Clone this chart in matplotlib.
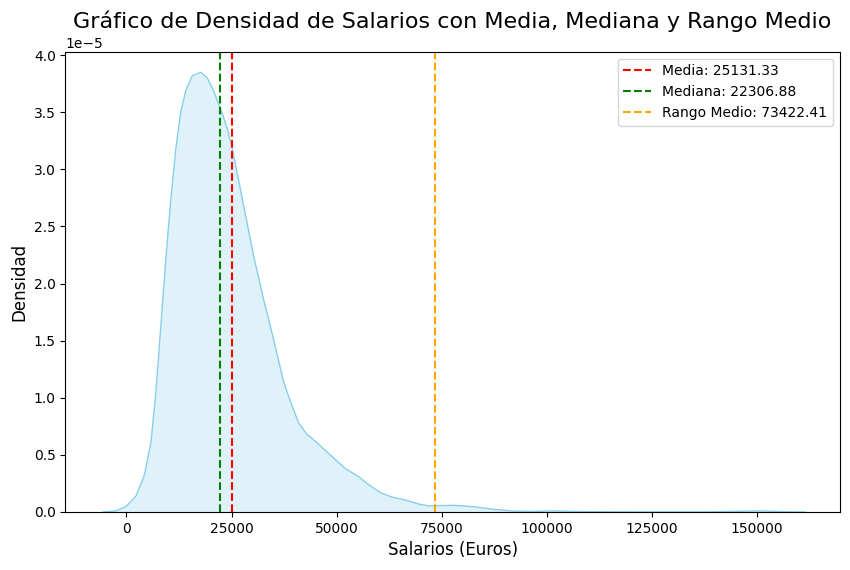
import matplotlib
matplotlib.use('Agg')
import matplotlib.pyplot as plt
import numpy as np

# density curve (salary in euros, density in units of 1e-5)
salario = [-5600, -2440, 0, 2290, 4260, 5840, 7020, 8200, 9390, 10570,
           11750, 12930, 14120, 15690, 17670, 19240, 20820, 22400, 23980,
           25120, 26500, 27890, 30270, 32640, 35020, 37240, 38580, 40960,
           42950, 44930, 47300, 49680, 52060, 55220, 57600, 60370, 63150,
           66320, 69480, 71860, 75040, 78200, 82320, 87400, 91620, 95850,
           101500, 108500, 121200, 138150, 150700, 156770, 161400]
densidad = [0.0, 0.01, 0.05, 0.14, 0.32, 0.61, 1.05, 1.63, 2.22, 2.74,
            3.18, 3.50, 3.69, 3.82, 3.85, 3.80, 3.68, 3.53, 3.36,
            3.19, 2.94, 2.68, 2.24, 1.86, 1.51, 1.16, 1.01, 0.78,
            0.68, 0.62, 0.54, 0.46, 0.38, 0.31, 0.24, 0.17, 0.13,
            0.105, 0.07, 0.053, 0.056, 0.058, 0.047, 0.023, 0.009, 0.004,
            0.009, 0.003, 0.001, 0.001, 0.009, 0.002, 0.0]

media = 25131.33
mediana = 22306.88
rango_medio = 73422.41


def main():
	x = np.array(salario)
	y = np.array(densidad) * 1e-5

	fig = plt.figure(figsize=(8.5, 5.7), dpi=100)
	ax = fig.add_axes([0.077, 0.1018, 0.911, 0.8075])

	ax.fill_between(x, y, color='skyblue', alpha=0.25, linewidth=0)
	ax.plot(x, y, color='skyblue', linewidth=1)

	ax.axvline(media, color='red', linestyle='--', label='Media: %.2f' % media)
	ax.axvline(mediana, color='green', linestyle='--', label='Mediana: %.2f' % mediana)
	ax.axvline(rango_medio, color='orange', linestyle='--', label='Rango Medio: %.2f' % rango_medio)

	ax.set_xlim(-14500, 169700)
	ax.set_ylim(0, 4.03e-5)
	ax.set_xticks([0, 25000, 50000, 75000, 100000, 125000, 150000])

	ax.set_title('Gráfico de Densidad de Salarios con Media, Mediana y Rango Medio', fontsize=16)
	ax.set_xlabel('Salarios (Euros)', fontsize=12)
	ax.set_ylabel('Densidad', fontsize=12)
	ax.legend(loc='upper right')

	fig.savefig('out.png', dpi=100)


if __name__ == "__main__":
    main()
